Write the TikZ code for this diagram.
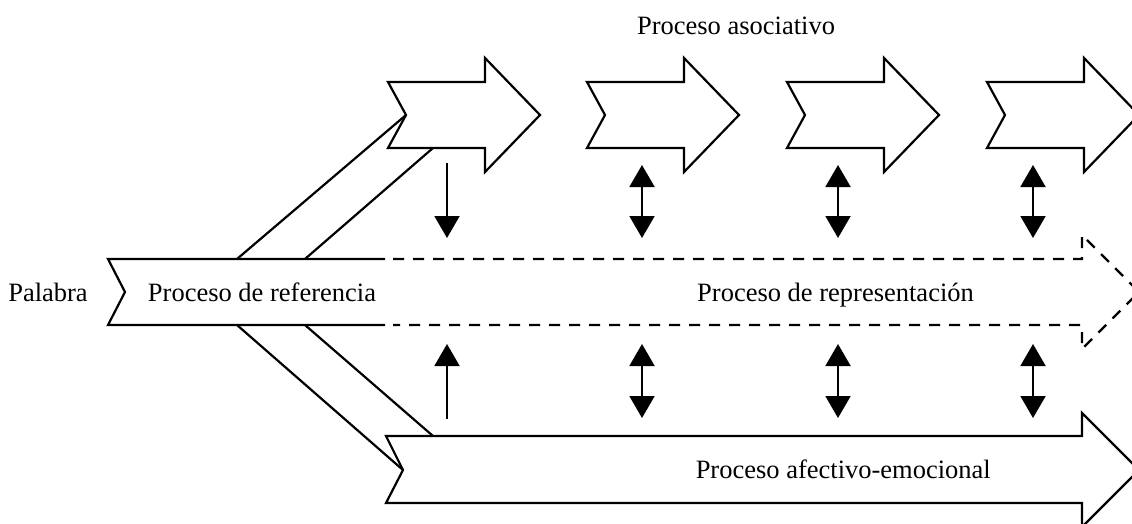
\documentclass[tikz,border=0pt]{standalone}
\usepackage{fontspec}
\setmainfont{Liberation Serif}
\usetikzlibrary{arrows.meta}
\begin{document}
\begin{tikzpicture}[x=1pt,y=-1pt,line join=miter,
  outline/.style={draw=black,line width=2.2pt},
  dashline/.style={draw=black,line width=2.2pt,dash pattern=on 11pt off 9pt},
  link/.style={line width=2pt,-{Triangle[width=25pt,length=22pt]}},
  both/.style={line width=2pt,{Triangle[width=25pt,length=22pt]}-{Triangle[width=25pt,length=22pt]}},
  lbl/.style={font=\fontsize{26.5}{30}\selectfont,inner sep=0pt,anchor=base}]
\useasboundingbox (0,0) rectangle (1132,524);
\clip (0,0) rectangle (1132,524);
\fill[white] (0,0) rectangle (1132,524);

% associative process: a row of notched block arrows
\foreach \x in {388,587,787,987} {
  \draw[outline,fill=white] (\x,82) -- (\x+97,82) -- (\x+97,58) -- (\x+152,115)
    -- (\x+97,172) -- (\x+97,148) -- (\x,148) -- (\x+18,115) -- cycle;
}

% affective-emotional process: long lower block arrow
\draw[outline,fill=white] (386,436) -- (1082,436) -- (1082,413) -- (1139,470)
  -- (1082,527) -- (1082,503) -- (386,503) -- (403,470) -- cycle;

% reference process: solid tail, then the dashed representation band
\draw[outline] (385,259) -- (108,259) -- (125,292) -- (108,325) -- (385,325);
\draw[dashline] (393,259) -- (1082,259) -- (1082,235) -- (1139,292)
  -- (1082,349) -- (1082,325) -- (393,325);

% branches from the reference band to the upper and lower processes
\draw[outline] (237,259) -- (406,115);
\draw[outline] (305,259) -- (433,148);
\draw[outline] (237,325) -- (403,470);
\draw[outline] (305,325) -- (433,436);

% vertical links between the processes
\coordinate (ua1) at (447,163); \coordinate (ub1) at (447,238);
\coordinate (la1) at (447,419); \coordinate (lb1) at (447,344);
\draw[link] (ua1) -- (ub1);
\draw[link] (la1) -- (lb1);
\foreach \x [count=\i from 2] in {642,838,1033} {
  \coordinate (ua\i) at (\x,165); \coordinate (ub\i) at (\x,238);
  \coordinate (la\i) at (\x,344); \coordinate (lb\i) at (\x,418);
  \draw[both] (ua\i) -- (ub\i);
  \draw[both] (la\i) -- (lb\i);
}

% labels
\node[lbl] (palabra) at (48,301) {Palabra};
\node[lbl] (referencia) at (262,301) {Proceso de referencia};
\node[lbl,anchor=base west] (representacion) at (697,301) {Proceso de representación};
\node[lbl] (asociativo) at (736,35) {Proceso asociativo};
\node[lbl,anchor=base east] (afectivo) at (991,478) {Proceso afectivo-emocional};
\end{tikzpicture}
\end{document}
